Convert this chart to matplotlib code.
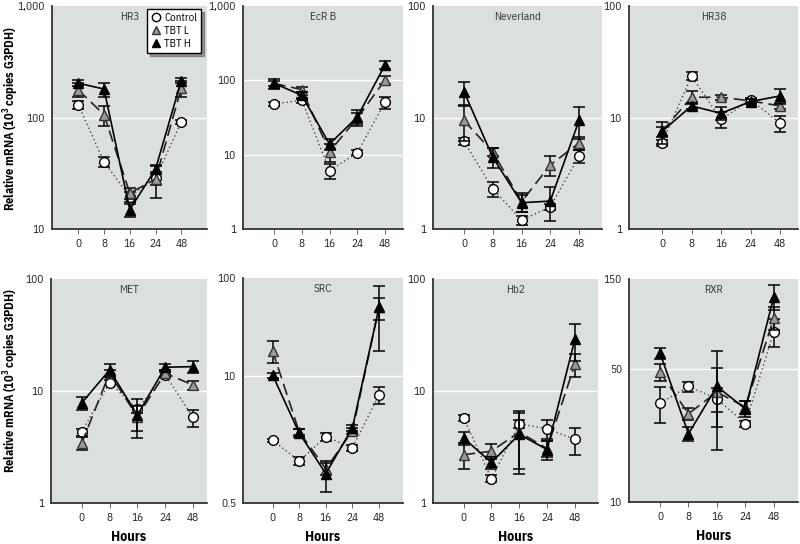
import matplotlib
matplotlib.use('Agg')
import matplotlib.pyplot as plt
from matplotlib.lines import Line2D
from matplotlib.ticker import FixedLocator, FixedFormatter, NullLocator

plt.rcParams['font.family'] = ['IBM Plex Sans Condensed', 'DejaVu Sans']
plt.rcParams['mathtext.fontset'] = 'custom'
plt.rcParams['mathtext.rm'] = 'IBM Plex Sans Condensed'
plt.rcParams['mathtext.bf'] = 'IBM Plex Sans Condensed:bold'

hours = ['0', '8', '16', '24', '48']
genes = ['HR3', 'EcR B', 'Neverland', 'HR38', 'MET', 'SRC', 'Hb2', 'RXR']
groups = ['Control', 'TBT L', 'TBT H']

# ---- data (mean, error) ----
hr3_ctrl = [130, 40, 19.5, 28.6, 91]
hr3_ctrl_err = [10, 4, 2, 4, 4]
hr3_l = [177, 106, 21, 28, 183]
hr3_l_err = [25, 22, 2.5, 9, 30]
hr3_h = [203, 180, 14.9, 34.4, 214]
hr3_h_err = [12, 26, 2, 3, 12]

ecr_ctrl = [48, 54, 6.1, 10.6, 50.6]
ecr_ctrl_err = [3, 4, 1.4, 0.8, 9]
ecr_l = [91, 75, 11, 31, 101]
ecr_l_err = [8, 6, 3, 5, 13]
ecr_h = [91, 63, 13.9, 32, 161]
ecr_h_err = [14, 7, 2.5, 8, 20]

nev_ctrl = [6.1, 2.3, 1.2, 1.58, 4.5]
nev_ctrl_err = [0.4, 0.35, 0.12, 0.1, 0.6]
nev_l = [9.4, 4.9, 1.76, 3.75, 5.9]
nev_l_err = [3.3, 0.4, 0.35, 0.75, 0.8]
nev_h = [17, 4.4, 1.72, 1.78, 9.4]
nev_h_err = [4, 0.9, 0.3, 0.6, 3]

hr38_ctrl = [5.9, 23.5, 9.6, 14.4, 8.9]
hr38_ctrl_err = [0.4, 2, 1.6, 0.6, 1.5]
hr38_l = [7.5, 15.2, 15.2, 14.1, 12.7]
hr38_l_err = [0.8, 2, 0.8, 0.6, 0.8]
hr38_h = [7.5, 12.7, 10.9, 13.9, 15.6]
hr38_h_err = [1.7, 0.8, 1.5, 0.7, 2.3]

met_ctrl = [4.3, 11.9, 6.9, 14, 5.8]
met_ctrl_err = [0.3, 0.6, 0.5, 0.7, 1]
met_l = [3.4, 14.4, 5.9, 14.4, 11.3]
met_l_err = [0.45, 1, 1.5, 1, 1]
met_h = [7.8, 15.4, 6.1, 16.3, 16.5]
met_h_err = [1.1, 2, 2.3, 1, 2]

src_ctrl = [2.2, 1.34, 2.38, 1.83, 6.4]
src_ctrl_err = [0.08, 0.12, 0.22, 0.13, 1.3]
src_l = [18.1, 2.67, 1.12, 2.73, 50]
src_l_err = [4.5, 0.2, 0.15, 0.2, 13]
src_h = [10.2, 2.6, 1.0, 2.94, 50]
src_h_err = [0.6, 0.25, 0.35, 0.2, 32]

hb2_ctrl = [5.75, 1.65, 5.1, 4.6, 3.7]
hb2_ctrl_err = [0.3, 0.12, 0.4, 0.9, 1]
hb2_l = [2.7, 2.9, 4.3, 3.06, 17.4]
hb2_l_err = [0.7, 0.45, 2.3, 0.5, 4]
hb2_h = [3.8, 2.3, 4.1, 3.0, 29]
hb2_h_err = [0.5, 0.3, 2.3, 0.6, 10.5]

rxr_ctrl = [33.2, 40.7, 35, 25.9, 79]
rxr_ctrl_err = [7, 2.5, 5, 1, 13]
rxr_l = [48.4, 29.2, 38, 31.7, 93.5]
rxr_l_err = [5, 2, 13, 2.5, 13]
rxr_h = [61, 22.9, 40.7, 31, 121]
rxr_h_err = [4, 2, 22, 3, 18]

panel_data = [
    (hr3_ctrl, hr3_ctrl_err, hr3_l, hr3_l_err, hr3_h, hr3_h_err),
    (ecr_ctrl, ecr_ctrl_err, ecr_l, ecr_l_err, ecr_h, ecr_h_err),
    (nev_ctrl, nev_ctrl_err, nev_l, nev_l_err, nev_h, nev_h_err),
    (hr38_ctrl, hr38_ctrl_err, hr38_l, hr38_l_err, hr38_h, hr38_h_err),
    (met_ctrl, met_ctrl_err, met_l, met_l_err, met_h, met_h_err),
    (src_ctrl, src_ctrl_err, src_l, src_l_err, src_h, src_h_err),
    (hb2_ctrl, hb2_ctrl_err, hb2_l, hb2_l_err, hb2_h, hb2_h_err),
    (rxr_ctrl, rxr_ctrl_err, rxr_l, rxr_l_err, rxr_h, rxr_h_err),
]

# y axis settings per panel
y_ticks = [[10, 100, 1000], [1, 10, 100, 1000], [1, 10, 100], [1, 10, 100],
           [1, 10, 100], [0.5, 10, 100], [1, 10, 100], [10, 50, 150]]
y_labels = [['10', '100', '1,000'], ['1', '10', '100', '1,000'], ['1', '10', '100'],
            ['1', '10', '100'], ['1', '10', '100'], ['0.5', '10', '100'],
            ['1', '10', '100'], ['10', '50', '150']]
grid_vals = [[100], [10, 100], [10], [10], [10], [10], [10], [50]]

# layout (pixels) : left, right, top, bottom
W, H = 800, 544
boxes = [(52, 207, 6, 229), (243, 403, 6, 229), (433, 602, 6, 229), (629, 798, 6, 229),
         (51, 207, 279, 503), (243, 403, 278, 503), (433, 598, 279, 503), (629, 798, 279, 502)]
xlims = [(-1.02, 5.0), (-1.12, 4.65), (-1.08, 4.8), (-1.12, 4.61),
         (-1.1, 4.5), (-1.11, 4.9), (-1.1, 4.83), (-1.09, 4.85)]

BG = '#dcdfe0'
fig = plt.figure(figsize=(W / 100, H / 100), dpi=100)

x = list(range(len(hours)))
styles = [
    dict(marker='o', mfc='white', mec='black', ms=7, ls=(0, (1, 2)), color='#444444', lw=1.0),
    dict(marker='^', mfc='#9a9a9a', mec='#333333', ms=7.5, ls=(0, (7, 3.5)), color='#222222', lw=1.2),
    dict(marker='^', mfc='black', mec='black', ms=7.5, ls='-', color='black', lw=1.2),
]

for i, g in enumerate(genes):
    l, r, t, b = boxes[i]
    ax = fig.add_axes([l / W, 1 - b / H, (r - l) / W, (b - t) / H])
    ax.set_facecolor(BG)
    ax.set_yscale('log')
    ax.set_ylim(y_ticks[i][0], y_ticks[i][-1])
    ax.set_xlim(*xlims[i])
    for gv in grid_vals[i]:
        ax.axhline(gv, color='white', lw=1.0, zorder=0.5)
    d = panel_data[i]
    for k in range(3):
        m = d[2 * k]
        e = d[2 * k + 1]
        st = styles[k]
        ax.errorbar(x, m, yerr=e, fmt='none', ecolor='black', elinewidth=1.1,
                    capsize=4, capthick=1.1, zorder=2 + k)
        ax.plot(x, m, linestyle=st['ls'], color=st['color'], lw=st['lw'],
                marker=st['marker'], mfc=st['mfc'], mec=st['mec'], ms=st['ms'],
                mew=1.0, zorder=3 + k)
    ax.yaxis.set_major_locator(FixedLocator(y_ticks[i]))
    ax.yaxis.set_major_formatter(FixedFormatter(y_labels[i]))
    ax.yaxis.set_minor_locator(NullLocator())
    ax.set_xticks(x)
    ax.set_xticklabels(hours)
    ax.tick_params(axis='both', labelsize=8, colors='#1a1a1a')
    ax.tick_params(axis='x', length=3.5, width=0.7, color='#666666', pad=3.5)
    ax.tick_params(axis='y', length=0, pad=5)
    for s in ['top', 'right']:
        ax.spines[s].set_visible(False)
    for s in ['left', 'bottom']:
        ax.spines[s].set_color('#333333')
        ax.spines[s].set_linewidth(1.3)
    ax.text(0.5, 0.975, g, transform=ax.transAxes, ha='center', va='top',
            fontsize=8, color='#333333')
    if i >= 4:
        ax.set_xlabel('Hours', fontsize=10, fontweight='bold', labelpad=5)
    if i == 0:
        handles = [Line2D([], [], linestyle='none', marker=st['marker'], mfc=st['mfc'],
                          mec=st['mec'], ms=6, mew=1.0) for st in styles]
        leg = ax.legend(handles, groups, loc='upper right', bbox_to_anchor=(0.962, 0.985),
                        borderaxespad=0, fontsize=7.8, frameon=True, fancybox=False,
                        shadow=True, handletextpad=0.35, borderpad=0.35,
                        labelspacing=0.28, handlelength=0.9)
        leg.get_frame().set_edgecolor('black')
        leg.get_frame().set_linewidth(1.0)
        leg.get_frame().set_facecolor('white')

ylab = 'Relative mRNA (10$^\\mathbf{3}$ copies G3PDH)'
fig.text(11 / W, 1 - 118 / H, ylab, rotation=90, ha='center', va='center',
         fontsize=8.8, fontweight='bold')
fig.text(11 / W, 1 - 380 / H, ylab, rotation=90, ha='center', va='center',
         fontsize=8.8, fontweight='bold')

fig.savefig('out.png', dpi=100)
